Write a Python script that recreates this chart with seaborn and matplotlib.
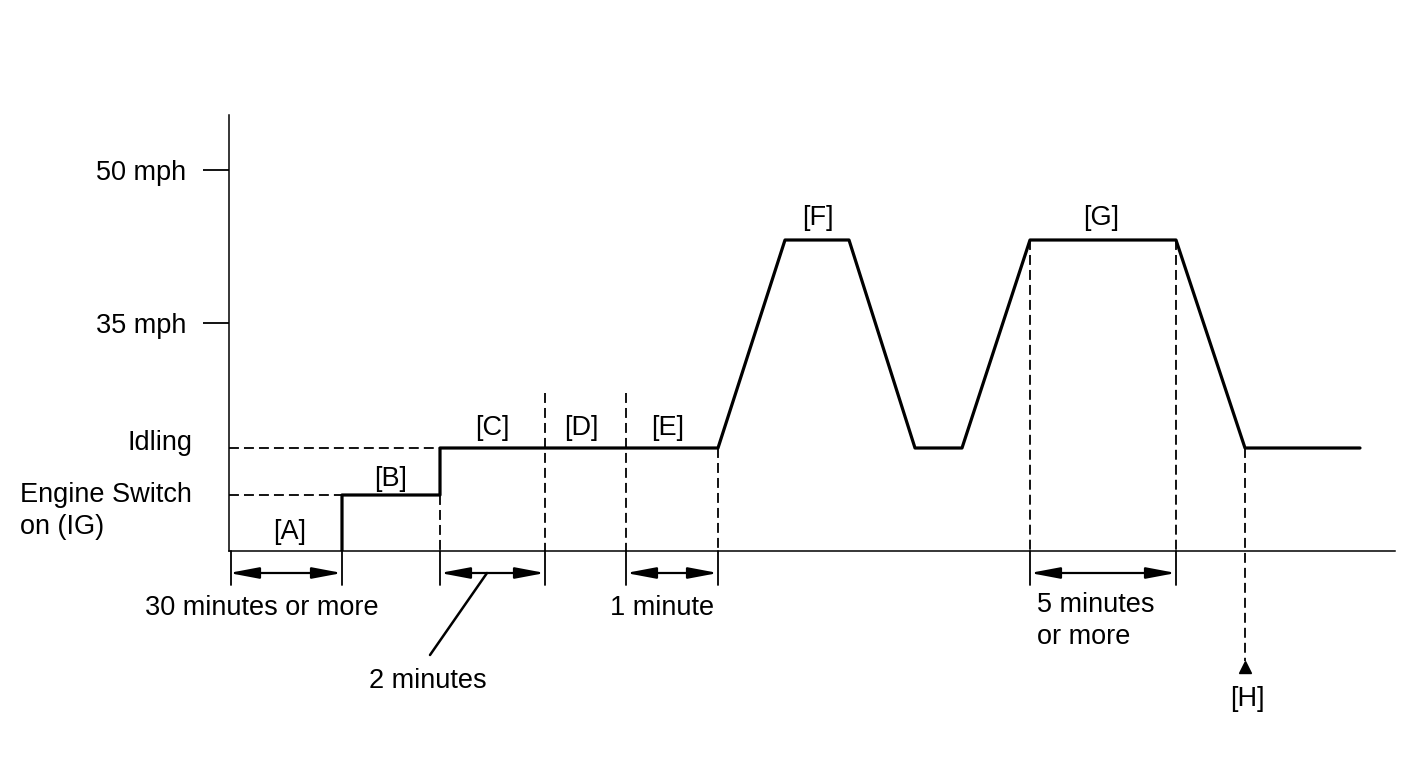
import matplotlib
matplotlib.use("Agg")
import seaborn as sns
import pandas as pd
from matplotlib import pyplot as plt

sns.set_style("white")
plt.rcParams["font.family"] = ["Liberation Sans", "DejaVu Sans"]
plt.rcParams["text.color"] = "black"

# speed levels (arbitrary units, baseline = engine off)
IGN = 56
IDLE = 103
PEAK = 311
TICK_VALUES = [381, 228]
TICK_LABELS = ["50 mph", "35 mph"]

# drive pattern: time vs speed level
profile_t = [113, 113, 211, 211, 489, 556, 620, 686, 733, 801, 947, 1016, 1131]
profile_v = [0, IGN, IGN, IDLE, IDLE, PEAK, PEAK, IDLE, IDLE, PEAK, PEAK, IDLE, IDLE]

# phase boundaries and the level each dashed guide starts from
bound_t = [211, 316, 397, 489, 801, 947]
bound_top = [IGN, 158, 158, IDLE, PEAK, PEAK]
ext_t = [0, 113, 211, 316, 397, 489, 801, 947]

# measured spans
spans = [(0, 113), (211, 316), (397, 489), (801, 947)]

phase_labels = ["[A]", "[B]", "[C]", "[D]", "[E]", "[F]", "[G]"]
phase_x = [61, 162, 263, 352, 439, 589, 872]
phase_y = [19, 72, 123, 123, 123, 333, 333]

H_T = 1016

fig = plt.figure(figsize=(14.24, 7.59), dpi=100)
ax = fig.add_axes([229 / 1424, 208 / 759, 1166 / 1424, 436 / 759])
ax.set_xlim(0, 1166)
ax.set_ylim(0, 436)

df = pd.DataFrame({"t": profile_t, "v": profile_v})
sns.lineplot(data=df, x="t", y="v", sort=False, estimator=None,
             color="black", linewidth=2.3, ax=ax)

for s in ["top", "right"]:
    ax.spines[s].set_visible(False)
for s in ["left", "bottom"]:
    ax.spines[s].set_linewidth(1.1)
    ax.spines[s].set_color("black")

fs = 19.5
ax.set_xticks([])
ax.set_yticks(TICK_VALUES)
ax.set_yticklabels(TICK_LABELS, fontsize=fs)
ax.tick_params(axis="y", length=19, width=1.3, pad=12, left=True,
               color="black", labelcolor="black")
ax.set_xlabel("")
ax.set_ylabel("")

dash = dict(color="black", linewidth=1.3, linestyle=(0, (5.5, 2.8)), clip_on=False)
solid = dict(color="black", linewidth=1.3, clip_on=False)

# horizontal guides to the y axis
ax.plot([0, 113], [IGN, IGN], **dash)
ax.plot([0, 211], [IDLE, IDLE], **dash)

# vertical phase guides
for t, top in zip(bound_t, bound_top):
    ax.plot([t, t], [top, 0], **dash)
for t in ext_t:
    ax.plot([t + (1.5 if t == 0 else 0)] * 2, [0, -34], **solid)

# span arrows
for a, b in spans:
    ax.annotate("", xy=(a, -22), xytext=(b, -22),
                arrowprops=dict(arrowstyle="<|-|>,head_length=0.9,head_width=0.17",
                                color="black", lw=1.6, shrinkA=0, shrinkB=0,
                                mutation_scale=20),
                annotation_clip=False)

# [H] marker
ax.plot([H_T, H_T], [IDLE, -110], **dash)
ax.plot([H_T], [-116], marker="^", color="black", markersize=9, clip_on=False)

# leader for "2 minutes"
ax.plot([258, 201], [-22, -104], color="black", linewidth=1.8, clip_on=False)

for lab, x, y in zip(phase_labels, phase_x, phase_y):
    ax.text(x, y, lab, ha="center", va="center", fontsize=fs)
ax.text(H_T + 2, -148, "[H]", ha="center", va="center", fontsize=fs)

ax.text(33, -57, "30 minutes or more", ha="center", va="center", fontsize=fs)
ax.text(199, -130, "2 minutes", ha="center", va="center", fontsize=fs)
ax.text(433, -57, "1 minute", ha="center", va="center", fontsize=fs)
ax.text(808, -70, "5 minutes\nor more", ha="left", va="center", fontsize=fs,
        linespacing=1.3)

ax.text(-37, 108, "Idling", ha="right", va="center", fontsize=fs)
ax.text(-209, 40, "Engine Switch\non (IG)", ha="left", va="center", fontsize=fs,
        linespacing=1.3)

fig.savefig("out.png", dpi=100, facecolor="white")
